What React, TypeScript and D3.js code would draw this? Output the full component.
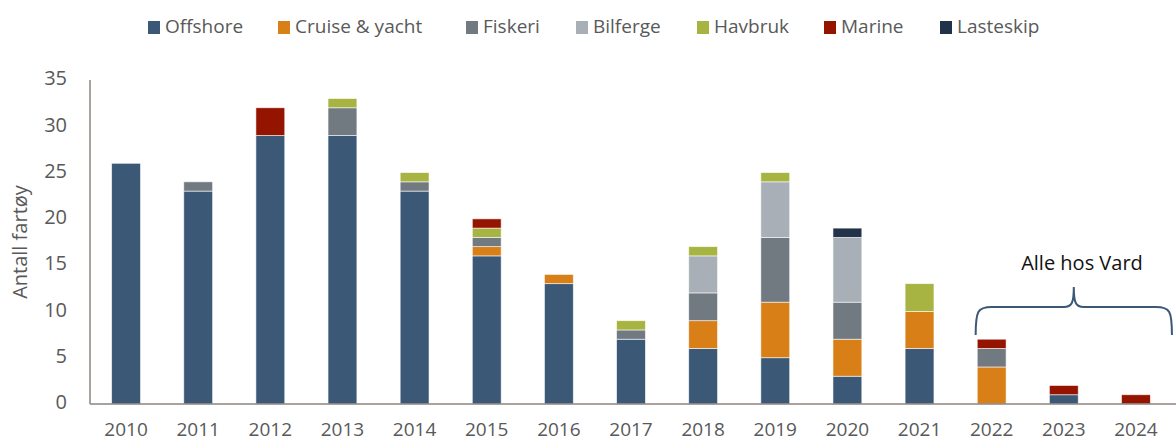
import React from 'react'
import * as d3 from 'd3'

const years = ['2010', '2011', '2012', '2013', '2014', '2015', '2016', '2017', '2018', '2019', '2020', '2021', '2022', '2023', '2024']
const seriesNames = ['Offshore', 'Cruise & yacht', 'Fiskeri', 'Bilferge', 'Havbruk', 'Marine', 'Lasteskip']
const offshore = [26, 23, 29, 29, 23, 16, 13, 7, 6, 5, 3, 6, 0, 1, 0]
const cruise = [0, 0, 0, 0, 0, 1, 1, 0, 3, 6, 4, 4, 4, 0, 0]
const fiskeri = [0, 1, 0, 3, 1, 1, 0, 1, 3, 7, 4, 0, 2, 0, 0]
const bilferge = [0, 0, 0, 0, 0, 0, 0, 0, 4, 6, 7, 0, 0, 0, 0]
const havbruk = [0, 0, 0, 1, 1, 1, 0, 1, 1, 1, 0, 3, 0, 0, 0]
const marine = [0, 0, 3, 0, 0, 1, 0, 0, 0, 0, 0, 0, 1, 1, 1]
const lasteskip = [0, 0, 0, 0, 0, 0, 0, 0, 0, 0, 1, 0, 0, 0, 0]
const yTicks = [0, 5, 10, 15, 20, 25, 30, 35]
const colors = ['#3b5877', '#d97f17', '#717981', '#a9afb6', '#a8b441', '#951400', '#223349']
const legendX = [148, 278, 466, 576, 697, 824, 940]

const font = '"Open Sans", sans-serif'
const textColor = '#595959'

function App() {
    const width = 1176
    const height = 444
    const left = 90
    const right = 1172
    const top = 80
    const bottom = 404

    const allSeries = [offshore, cruise, fiskeri, bilferge, havbruk, marine, lasteskip]
    const rows = years.map((y, i) => {
        const r: any = { year: y }
        seriesNames.forEach((s, k) => { r[s] = allSeries[k][i] })
        return r
    })
    const stacked = d3.stack().keys(seriesNames)(rows)

    const x = d3.scaleBand().domain(years).range([left, right]).paddingInner(0.6).paddingOuter(0.3)
    const y = d3.scaleLinear().domain([0, 35]).range([bottom, top])

    const b0 = x('2022')! + x.bandwidth() / 2 - 16
    const b1 = x('2024')! + x.bandwidth() / 2 + 36
    const bMid = (b0 + b1) / 2
    const yb = 335, yc = 307, ytip = 287
    const brace = `M${b0},${yb} C${b0},${yc + 4} ${b0 + 2},${yc} ${b0 + 16},${yc} L${bMid - 10},${yc} C${bMid - 2},${yc} ${bMid},${yc - 4} ${bMid},${ytip} C${bMid},${yc - 4} ${bMid + 2},${yc} ${bMid + 10},${yc} L${b1 - 16},${yc} C${b1 - 2},${yc} ${b1},${yc + 4} ${b1},${yb}`

    return (
        <div style={{ position: 'absolute', left: 0, top: 0 }}>
            <svg width={width} height={height} style={{ display: 'block' }}>
                <rect width={width} height={height} fill="#ffffff" />
                {legendX.map((lx, i) => (
                    <g key={i}>
                        <rect x={lx} y={21} width={12} height={13} fill={colors[i]} />
                        <text x={lx + 17} y={28} dominantBaseline="middle" fontFamily={font} fontSize={19} fill={textColor}>{seriesNames[i]}</text>
                    </g>
                ))}
                {stacked.map((layer, k) => (
                    <g key={k} fill={colors[k]}>
                        {layer.map((d, i) => d[1] - d[0] > 0 ? (
                            <rect key={i} x={x(years[i])} y={y(d[1])} width={x.bandwidth()} height={y(d[0]) - y(d[1])} stroke="#ffffff" strokeOpacity={0.7} strokeWidth={0.8} />
                        ) : null)}
                    </g>
                ))}
                <line x1={left} x2={left} y1={top} y2={bottom} stroke="#8c8580" strokeWidth={1.5} />
                <line x1={left} x2={width} y1={bottom} y2={bottom} stroke="#8c8580" strokeWidth={1.5} />
                {yTicks.map(t => (
                    <text key={t} x={67} y={y(t)} textAnchor="end" dominantBaseline="middle" fontFamily={font} fontSize={20} fill={textColor}>{t}</text>
                ))}
                {years.map(yr => (
                    <text key={yr} x={x(yr)! + x.bandwidth() / 2} y={431} textAnchor="middle" dominantBaseline="middle" fontFamily={font} fontSize={19} fill={textColor}>{yr}</text>
                ))}
                <text transform={`translate(22,${(top + bottom) / 2}) rotate(-90)`} textAnchor="middle" dominantBaseline="middle" fontFamily={font} fontSize={20} fill={textColor}>Antall fartøy</text>
                <path d={brace} fill="none" stroke="#3b5877" strokeWidth={2} />
                <text x={1082} y={265} textAnchor="middle" dominantBaseline="middle" fontFamily={font} fontSize={20} fill="#111111">Alle hos Vard</text>
            </svg>
        </div>
    )
}
export default App
